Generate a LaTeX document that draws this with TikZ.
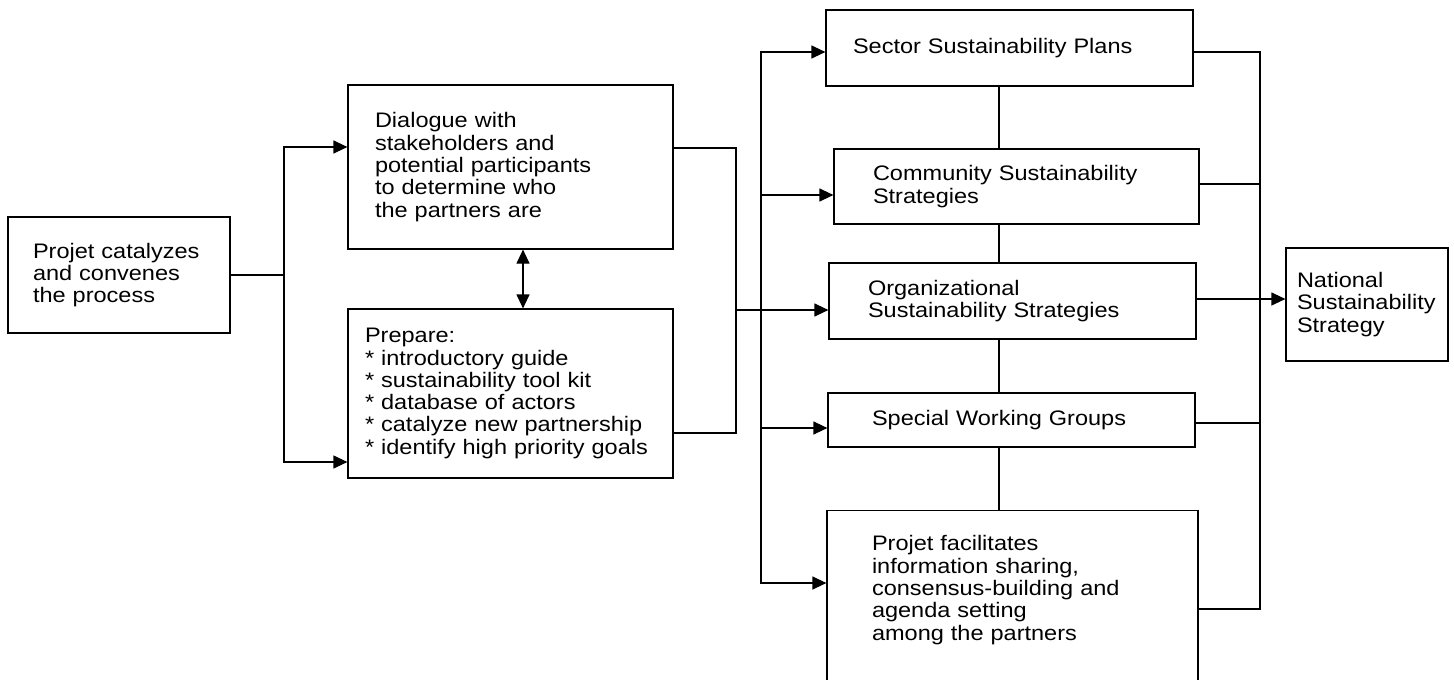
\documentclass[tikz,border=0pt]{standalone}
\usepackage{fontspec}
\setmainfont[FakeStretch=1.12]{Liberation Sans}
\usetikzlibrary{arrows.meta}

\begin{document}
\begin{tikzpicture}[x=1pt,y=-1pt,line width=1.2pt,
    box/.style={rectangle,draw,align=left,inner ysep=6pt,
      font=\fontsize{21pt}{22.3pt}\selectfont},
    flow/.style={-{Triangle[length=14pt,width=13pt]}},
    twoway/.style={{Triangle[length=14pt,width=13pt]}-{Triangle[length=14pt,width=13pt]}}]
  \useasboundingbox (0,0) rectangle (1454,680);
  \draw node (catalyze) at(119,275) [box,text width=172pt,inner xsep=25pt,minimum height=116pt]
          {Projet catalyzes\\and convenes\\the process}
        node (dialogue) at(510.5,167) [box,text width=271pt,inner xsep=27pt,minimum height=164pt]
          {Dialogue with\\stakeholders and\\potential participants\\to determine who\\the partners are}
        node (prepare) at(510.5,393.5) [box,text width=291pt,inner xsep=17pt,minimum height=169pt]
          {Prepare:\\{}* introductory guide\\{}* sustainability tool kit\\{}* database of actors\\{}* catalyze new partnership\\{}* identify high priority goals}
        node (sector) at(1009.5,48) [box,text width=313pt,inner xsep=27pt,minimum height=76pt]
          {Sector Sustainability Plans}
        node (community) at(1016.5,186.5) [box,text width=287pt,inner xsep=39pt,minimum height=75pt]
          {Community Sustainability\\Strategies}
        node (organizational) at(1012.5,301) [box,text width=289pt,inner xsep=39pt,minimum height=76pt]
          {Organizational\\Sustainability Strategies}
        node (special) at(1011.5,420) [box,text width=279pt,inner xsep=44pt,minimum height=54pt]
          {Special Working Groups}
        node (facilitates) at(1012.5,510) [box,anchor=north,text width=281pt,inner xsep=45pt,inner ysep=25pt,text depth=150pt]
          {Projet facilitates\\information sharing,\\consensus-building and\\agenda setting\\among the partners}
        node (national) at(1367,304.5) [box,text width=140pt,inner xsep=11pt,minimum height=113pt]
          {National\\Sustainability\\Strategy};

  \coordinate (split) at (284,275);
  \coordinate (merge) at (736,310);
  \coordinate (fan) at (761,310);
  \coordinate (spine) at (999,0);
  \coordinate (join) at (1260,299);

  % left side
  \draw (catalyze) -- (split);
  \draw[flow] (split) |- ([yshift=20pt]dialogue.west);
  \draw[flow] (split) |- ([yshift=-68.5pt]prepare.west);
  \draw[twoway] ([xshift=12.5pt]dialogue.south) -- ([xshift=12.5pt]prepare.north);
  \draw ([yshift=19pt]dialogue.east) -| (merge) |- ([yshift=-39.5pt]prepare.east);
  \draw[flow] (merge) -- (organizational.west |- merge);

  % fan out to the partners
  \draw[flow] (fan) |- ([yshift=-4pt]sector.west);
  \draw[flow] (fan) |- ([yshift=-8.5pt]community.west);
  \draw[flow] (fan) |- ([yshift=-8pt]special.west);
  \draw[flow] (fan) |- ([yshift=-73pt]facilitates.north west);
  \foreach \upper/\lower in {sector/community,community/organizational,organizational/special,special/facilitates}
    \draw (\upper.south -| spine) -- (\lower.north -| spine);

  % right side
  \draw ([yshift=-4pt]sector.east) -| (join) |- ([yshift=-99pt]facilitates.north east);
  \draw ([yshift=2.5pt]community.east) -| (join);
  \draw ([yshift=-3pt]special.east) -| (join);
  \draw[flow] ([yshift=2pt]organizational.east) -- (national.west |- join);
\end{tikzpicture}
\end{document}
